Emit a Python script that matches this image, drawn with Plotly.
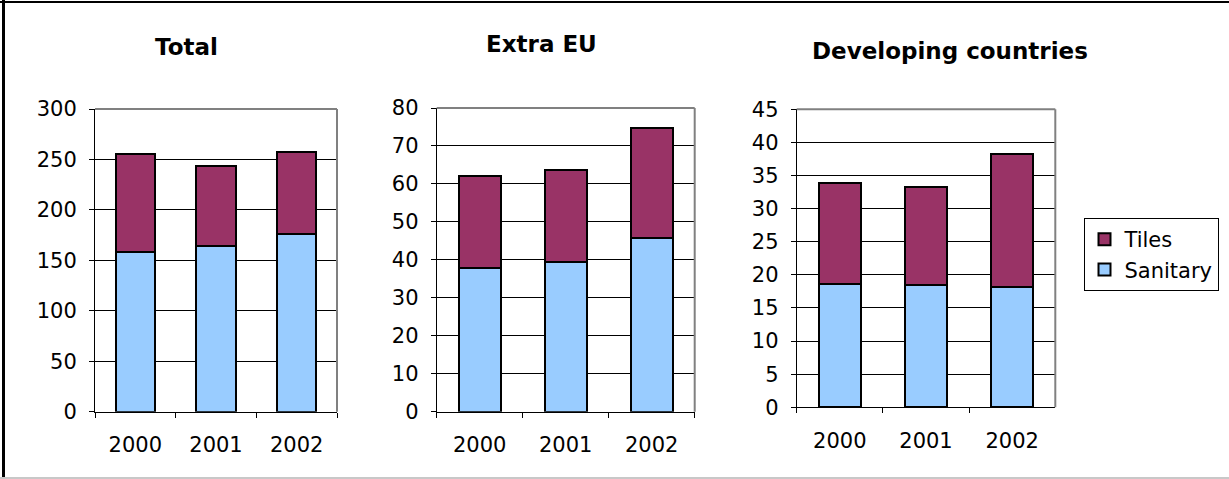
import plotly.graph_objects as go

W, H = 1229, 479

years = ["2000", "2001", "2002"]
panel_titles = ["Total", "Extra EU", "Developing countries"]

# Stacked values per panel: sanitary (bottom) and tiles (top)
total_sanitary = [158, 164, 176]
total_tiles = [97.5, 79.5, 81.5]
extra_eu_sanitary = [37.9, 39.4, 45.7]
extra_eu_tiles = [24.3, 24.3, 29.1]
developing_sanitary = [18.6, 18.4, 18.1]
developing_tiles = [15.2, 14.8, 20.2]

y_ranges = [(0, 300, 50), (0, 80, 10), (0, 45, 5)]

SANITARY = "#99CCFF"
TILES = "#993366"
FONT = "DejaVu Sans"

panels = [
    (total_sanitary, total_tiles),
    (extra_eu_sanitary, extra_eu_tiles),
    (developing_sanitary, developing_tiles),
]

# plot-area pixel boxes (left, right, top, bottom)
boxes = [
    (95, 337, 109, 411.7),
    (436.7, 694.7, 108, 411.7),
    (796.7, 1055.3, 109.3, 407.3),
]
title_pos = [(186, 47), (541, 44), (950, 51)]

fig = go.Figure()

for i, (san, til) in enumerate(panels):
    n = "" if i == 0 else str(i + 1)
    xa, ya = "x" + n, "y" + n
    show = i == 2
    fig.add_trace(go.Bar(
        x=years, y=san, name="Sanitary", xaxis=xa, yaxis=ya,
        marker=dict(color=SANITARY, line=dict(color="black", width=2)),
        width=0.49, showlegend=show,
    ))
    fig.add_trace(go.Bar(
        x=years, y=til, name="Tiles", xaxis=xa, yaxis=ya,
        marker=dict(color=TILES, line=dict(color="black", width=2)),
        width=0.49, showlegend=show,
    ))

layout = dict(
    width=W, height=H,
    margin=dict(l=0, r=0, t=0, b=0, autoexpand=False),
    barmode="stack",
    paper_bgcolor="white",
    plot_bgcolor="white",
    font=dict(family=FONT, size=21, color="black"),
    legend=dict(
        x=1083.5 / W, y=1 - 218 / H, xanchor="left", yanchor="top",
        bordercolor="black", borderwidth=1, bgcolor="white",
        font=dict(family=FONT, size=21, color="black"),
        traceorder="reversed",
    ),
)

shapes = []
annotations = []
for i, (l, r, t, b) in enumerate(boxes):
    n = "" if i == 0 else str(i + 1)
    lo, hi, step = y_ranges[i]
    layout["xaxis" + n] = dict(
        domain=[l / W, r / W], anchor="y" + n,
        type="category", tickson="boundaries",
        ticks="outside", ticklen=5, tickcolor="black",
        showline=True, linecolor="black", linewidth=1,
        showgrid=False, ticklabelstandoff=14,
        tickfont=dict(size=21),
    )
    layout["yaxis" + n] = dict(
        domain=[1 - b / H, 1 - t / H], anchor="x" + n,
        range=[lo, hi], dtick=step, tick0=0,
        ticks="outside", ticklen=5, tickcolor="black",
        showline=True, linecolor="black", linewidth=1,
        showgrid=True, gridcolor="black", gridwidth=1,
        ticklabelstandoff=8, tickfont=dict(size=21),
    )
    # gray top and right edges of the plot area
    shapes.append(dict(type="line", xref="x" + n + " domain", yref="y" + n + " domain",
                       x0=0, x1=1, y0=1, y1=1, line=dict(color="#808080", width=2)))
    shapes.append(dict(type="line", xref="x" + n + " domain", yref="y" + n + " domain",
                       x0=1, x1=1, y0=0, y1=1, line=dict(color="#808080", width=2)))
    tx, ty = title_pos[i]
    annotations.append(dict(
        x=tx / W, y=1 - ty / H, xref="paper", yref="paper",
        text="<b>" + panel_titles[i] + "</b>", showarrow=False,
        font=dict(family=FONT, size=23, color="black"),
        xanchor="center", yanchor="middle",
    ))

# outer frame
shapes.append(dict(type="line", xref="paper", yref="paper",
                   x0=3.5 / W, x1=3.5 / W, y0=0, y1=1, line=dict(color="black", width=3)))
shapes.append(dict(type="line", xref="paper", yref="paper",
                   x0=0, x1=1, y0=1 - 2 / H, y1=1 - 2 / H, line=dict(color="black", width=2)))
shapes.append(dict(type="line", xref="paper", yref="paper",
                   x0=0, x1=1, y0=1 - 478 / H, y1=1 - 478 / H, line=dict(color="#c8c8c8", width=2)))

layout["shapes"] = shapes
layout["annotations"] = annotations
fig.update_layout(**layout)

fig.write_html("out.html")
